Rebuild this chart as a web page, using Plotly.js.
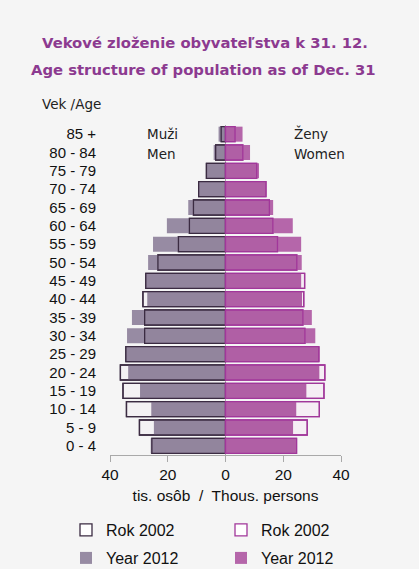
<!DOCTYPE html>
<html><head><meta charset="utf-8">
<script src="https://cdn.plot.ly/plotly-3.0.1.min.js"></script>
<style>html,body{margin:0;padding:0;background:#f5f5f5;}#chart{width:419px;height:569px;}</style>
</head><body><div id="chart"></div>
<script>
const ages = ["0 - 4","5 - 9","10 - 14","15 - 19","20 - 24","25 - 29","30 - 34","35 - 39","40 - 44","45 - 49","50 - 54","55 - 59","60 - 64","65 - 69","70 - 74","75 - 79","80 - 84","85 +"];
const men2002   = [25.5, 29.8, 34.3, 35.5, 36.4, 34.5, 28.0, 28.0, 28.6, 27.6, 23.4, 16.3, 12.5, 11.1, 9.3, 6.6, 3.4, 1.5];
const men2012   = [25.9, 24.8, 25.7, 29.6, 33.7, 34.3, 34.1, 32.4, 27.1, 27.6, 26.8, 25.1, 20.3, 12.9, 9.4, 6.5, 4.1, 2.4];
const women2002 = [24.6, 28.3, 32.5, 34.1, 34.4, 32.3, 27.5, 26.8, 27.1, 27.4, 24.7, 18.0, 16.4, 15.2, 14.0, 10.8, 6.0, 3.3];
const women2012 = [24.4, 23.4, 24.5, 28.0, 32.5, 32.6, 31.1, 29.9, 26.5, 26.2, 26.4, 26.2, 23.3, 16.5, 14.1, 11.6, 8.5, 5.9];
const tickVals = [-40, -20, 0, 20, 40];
const tickText = ["40", "20", "0", "20", "40"];

const menFill = "#978ba3", menLine = "#3b2b42";
const womenFill = "#b566aa", womenLine = "#a1379a";
const neg = a => a.map(v => -v);
const legFont = {family: "Liberation Sans, Arial, sans-serif", size: 16, color: "#111"};

const traces = [
  {type:"bar", orientation:"h", y:ages, x:neg(men2002), name:"Rok 2002", legend:"legend",
   marker:{color:"#ffffff", line:{color:menLine, width:1.3}}, hoverinfo:"skip"},
  {type:"bar", orientation:"h", y:ages, x:neg(men2012), name:"Year 2012", legend:"legend3",
   marker:{color:menFill, line:{color:"rgba(0,0,0,0)", width:0}}, hoverinfo:"skip"},
  {type:"bar", orientation:"h", y:ages, x:neg(men2002), name:"Rok 2002", showlegend:false,
   marker:{color:"rgba(80,60,90,0.07)", line:{color:menLine, width:1.3}}, hoverinfo:"skip"},
  {type:"bar", orientation:"h", y:ages, x:women2002, name:"Rok 2002", legend:"legend2",
   marker:{color:"#ffffff", line:{color:womenLine, width:1.3}}, hoverinfo:"skip"},
  {type:"bar", orientation:"h", y:ages, x:women2012, name:"Year 2012", legend:"legend4",
   marker:{color:womenFill, line:{color:"rgba(0,0,0,0)", width:0}}, hoverinfo:"skip"},
  {type:"bar", orientation:"h", y:ages, x:women2002, name:"Rok 2002", showlegend:false,
   marker:{color:"rgba(120,20,100,0.07)", line:{color:womenLine, width:1.3}}, hoverinfo:"skip"}
];

const W = 419, H = 569;
const L = 110, R = 341, T = 125, B = 455;
const px = x => (x - L) / (R - L);
const py = y => (B - y) / (B - T);
const titleFont = {family:"DejaVu Sans, Verdana, sans-serif", size:14.8, color:"#8c3a90"};
const lblFont = {family:"DejaVu Sans, Verdana, sans-serif", size:13.5, color:"#222"};
const mkLeg = (x, y) => ({orientation:"v", xref:"container", yref:"container", x:x / W, xanchor:"left", y:1 - y / H, yanchor:"middle",
  font:legFont, bgcolor:"rgba(0,0,0,0)", itemclick:false, itemdoubleclick:false, borderwidth:0});

const layout = {
  width:W, height:H,
  margin:{l:L, r:W-R, t:T, b:H-B, pad:0, autoexpand:false},
  paper_bgcolor:"#f5f5f5", plot_bgcolor:"#f5f5f5",
  barmode:"overlay", bargap:0.18,
  showlegend:true,
  xaxis:{range:[-40,40], tickvals:tickVals, ticktext:tickText, showgrid:false, automargin:false,
    zeroline:true, zerolinecolor:"#a9a9a9", zerolinewidth:1, layer:"above traces",
    showline:true, linecolor:"#a9a9a9", linewidth:1, ticks:"outside", ticklen:6, tickcolor:"#a9a9a9",
    ticklabelstandoff:-1,
    tickfont:{family:"Liberation Sans, Arial, sans-serif", size:15.5, color:"#111"},
    title:{text:"tis. osôb  /  Thous. persons", font:{family:"Liberation Sans, Arial, sans-serif", size:15.5, color:"#111"}, standoff:8},
    fixedrange:true},
  yaxis:{type:"category", categoryorder:"array", categoryarray:ages, tickmode:"array", tickvals:ages, ticktext:ages,
    showgrid:false, zeroline:false, showline:false, ticks:"", ticklabelstandoff:13, automargin:false,
    tickfont:{family:"Liberation Sans, Arial, sans-serif", size:15, color:"#111"}, fixedrange:true},
  legend: mkLeg(66, 530),
  legend2: mkLeg(221, 530),
  legend3: mkLeg(66, 558),
  legend4: mkLeg(221, 558),
  annotations:[
    {text:"<b>Vekové zloženie obyvateľstva k 31. 12.</b>", xref:"paper", yref:"paper", x:px(205), y:py(43), xanchor:"center", yanchor:"middle", showarrow:false, font:titleFont},
    {text:"<b>Age structure of population as of Dec. 31</b>", xref:"paper", yref:"paper", x:px(203), y:py(70), xanchor:"center", yanchor:"middle", showarrow:false, font:titleFont},
    {text:"Vek /Age", xref:"paper", yref:"paper", x:px(40), y:py(104), xanchor:"left", yanchor:"middle", showarrow:false, font:lblFont},
    {text:"Muži", xref:"paper", yref:"paper", x:px(145), y:py(134), xanchor:"left", yanchor:"middle", showarrow:false, font:lblFont},
    {text:"Men", xref:"paper", yref:"paper", x:px(145), y:py(154), xanchor:"left", yanchor:"middle", showarrow:false, font:lblFont},
    {text:"Ženy", xref:"paper", yref:"paper", x:px(292), y:py(134), xanchor:"left", yanchor:"middle", showarrow:false, font:lblFont},
    {text:"Women", xref:"paper", yref:"paper", x:px(292), y:py(154), xanchor:"left", yanchor:"middle", showarrow:false, font:lblFont}
  ]
};
Plotly.newPlot("chart", traces, layout, {displayModeBar:false, staticPlot:true});
</script></body></html>
